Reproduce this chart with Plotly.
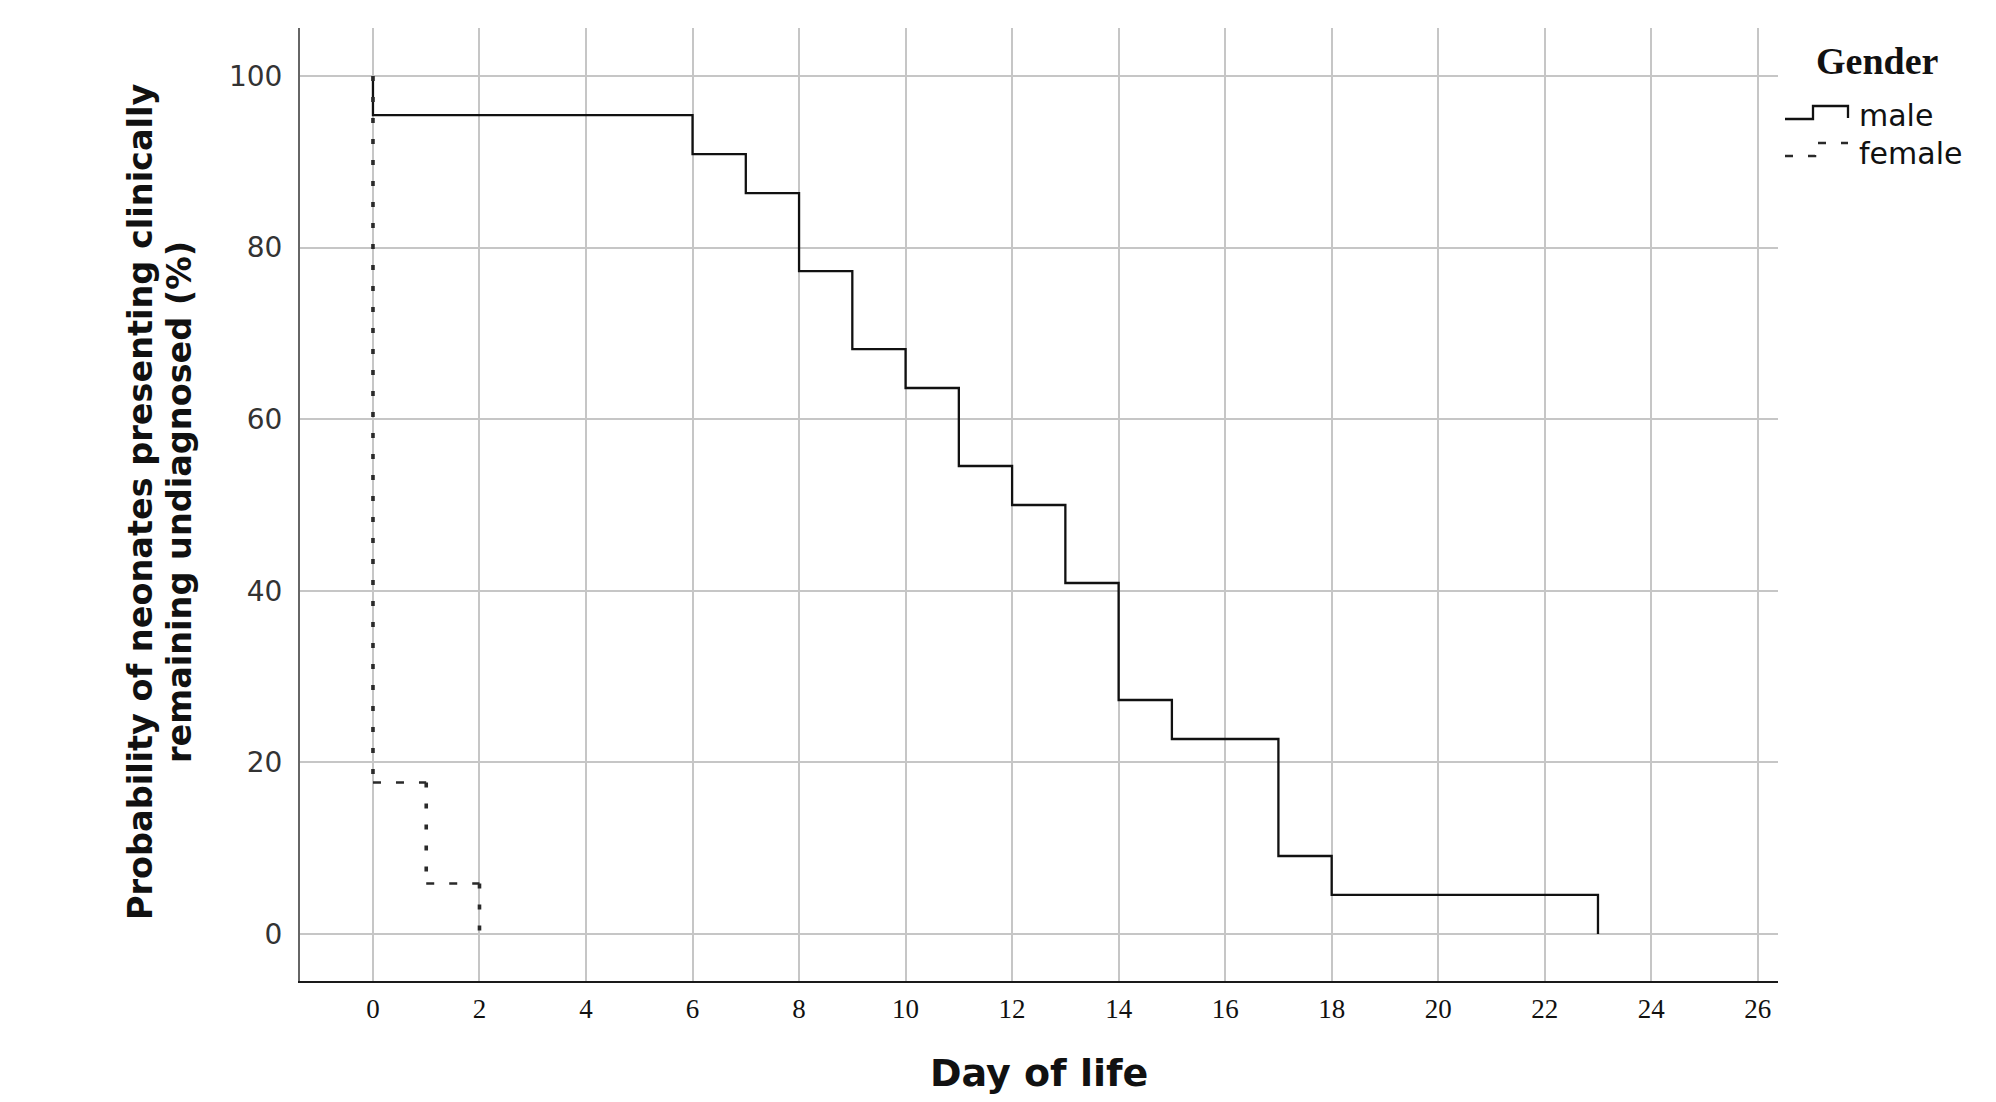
import plotly.graph_objects as go

# ---- data ----
male_days = [0, 0, 6, 7, 8, 9, 10, 11, 12, 13, 14, 15, 17, 18, 23]
male_surv = [100, 95.45, 90.91, 86.36, 77.27, 68.18, 63.64, 54.55, 50.0, 40.91, 27.27, 22.73, 9.09, 4.55, 0]

female_days = [0, 1, 2]
female_surv_before = [100, 17.65, 5.88]
female_surv_after = [17.65, 5.88, 0]

x_ticks = list(range(0, 27, 2))
y_ticks = [0, 20, 40, 60, 80, 100]

# ---- figure geometry (pixels) ----
W, H = 1996, 1102
L, R, T, B = 300, 1778, 28, 981
pw, ph = R - L, B - T


def px(x):
    return (x - L) / pw


def py(y):
    return (B - y) / ph


fig = go.Figure()

fig.add_trace(go.Scatter(
    x=male_days, y=male_surv, mode="lines", line_shape="hv",
    line=dict(color="#111111", width=2.3), showlegend=False, hoverinfo="skip"))

# female: vertical drops (dotted) and horizontal runs (dashed)
fv_x, fv_y = [], []
for d, a, b in zip(female_days, female_surv_before, female_surv_after):
    fv_x += [d, d, None]
    fv_y += [a, b, None]
fh_x, fh_y = [], []
for i in range(len(female_days) - 1):
    fh_x += [female_days[i], female_days[i + 1], None]
    fh_y += [female_surv_after[i], female_surv_after[i], None]

fig.add_trace(go.Scatter(
    x=fv_x, y=fv_y, mode="lines",
    line=dict(color="#2a2a2a", width=3.6, dash="5px,16px"),
    showlegend=False, hoverinfo="skip"))
fig.add_trace(go.Scatter(
    x=fh_x, y=fh_y, mode="lines",
    line=dict(color="#2a2a2a", width=2.4, dash="8px,15px"),
    showlegend=False, hoverinfo="skip"))

fig.update_xaxes(
    range=[-1.37, 26.38], tickvals=x_ticks, ticktext=[str(v) for v in x_ticks],
    showgrid=True, gridcolor="#c6c6c6", gridwidth=2, zeroline=False,
    showline=True, linecolor="#1a1a1a", linewidth=2,
    ticks="outside", ticklen=3, tickcolor="rgba(0,0,0,0)",
    tickfont=dict(family="Liberation Serif", size=27, color="#111"))
fig.update_yaxes(
    range=[-5.48, 105.6], tickvals=y_ticks, ticktext=[str(v) for v in y_ticks],
    showgrid=True, gridcolor="#c6c6c6", gridwidth=2, zeroline=False,
    showline=True, linecolor="#666666", linewidth=2,
    ticks="outside", ticklen=10, tickcolor="rgba(0,0,0,0)",
    tickfont=dict(family="DejaVu Sans", size=28, color="#333"))

annotations = [
    dict(text="Day of life", x=0.5, y=py(1073), xref="paper", yref="paper",
         xanchor="center", yanchor="middle", showarrow=False,
         font=dict(family="DejaVu Sans", size=38, color="#111", weight="bold")),
    dict(text="Probability of neonates presenting clinically", x=px(141), y=py(502),
         xref="paper", yref="paper", xanchor="center", yanchor="middle",
         textangle=-90, showarrow=False,
         font=dict(family="DejaVu Sans", size=33.5, color="#111", weight="bold")),
    dict(text="remaining undiagnosed (%)", x=px(180), y=py(502),
         xref="paper", yref="paper", xanchor="center", yanchor="middle",
         textangle=-90, showarrow=False,
         font=dict(family="DejaVu Sans", size=33.5, color="#111", weight="bold")),
    dict(text="Gender", x=px(1877), y=py(61), xref="paper", yref="paper",
         xanchor="center", yanchor="middle", showarrow=False,
         font=dict(family="Liberation Serif", size=38, color="#111", weight="bold")),
    dict(text="male", x=px(1857), y=py(116), xref="paper", yref="paper",
         xanchor="left", yanchor="middle", showarrow=False,
         font=dict(family="DejaVu Sans", size=30, color="#111")),
    dict(text="female", x=px(1857), y=py(153), xref="paper", yref="paper",
         xanchor="left", yanchor="middle", showarrow=False,
         font=dict(family="DejaVu Sans", size=30, color="#111")),
]

shapes = [
    dict(type="path", xref="paper", yref="paper",
         path=f"M {px(1785)},{py(119)} L {px(1813)},{py(119)} L {px(1813)},{py(106)} "
              f"L {px(1848)},{py(106)} L {px(1848)},{py(118)}",
         line=dict(color="#111111", width=2.3)),
    dict(type="path", xref="paper", yref="paper",
         path=f"M {px(1785)},{py(156)} L {px(1815)},{py(156)} L {px(1815)},{py(143)} "
              f"L {px(1848)},{py(143)}",
         line=dict(color="#2a2a2a", width=2.5, dash="8px,15px")),
]

fig.update_layout(
    width=W, height=H,
    margin=dict(l=L, r=W - R, t=T, b=H - B, pad=0),
    plot_bgcolor="white", paper_bgcolor="white",
    showlegend=False, annotations=annotations, shapes=shapes)

fig.write_html("out.html")
